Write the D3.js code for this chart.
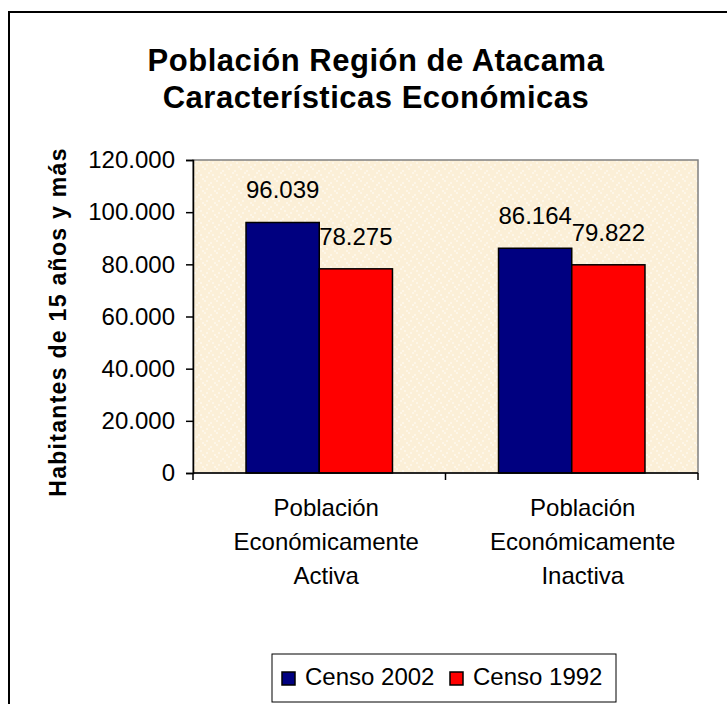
<!DOCTYPE html>
<meta charset="utf-8">
<head>
    <title>Población Región de Atacama</title>
</head>
<style>
 body { margin: 0; background: white; }
 svg { display: block; font-family: "Liberation Sans", Arial, sans-serif; }
 .tick text { font-size: 24px; fill: black; }
</style>
<body>
    <div id="chart"></div>
    <script src="https://d3js.org/d3.v7.min.js"></script>
    <script>

     // datos
     var categorias = [["Población", "Económicamente", "Activa"],
                       ["Población", "Económicamente", "Inactiva"]];
     var series = ["Censo 2002", "Censo 1992"];
     var censo2002 = [96039, 86164];
     var censo1992 = [78275, 79822];
     var colores = ["#000080", "#ff0000"];
     var ticks = [0, 20000, 40000, 60000, 80000, 100000, 120000];

     var width = 727, height = 704;
     var plotLeft = 193, plotRight = 698, plotTop = 160, plotBottom = 473;

     var fmt = function (v) {
         return d3.format(",")(v).replace(/,/g, ".");
     };

     var svg = d3.select("#chart").append("svg")
                 .attr("width", width)
                 .attr("height", height);

     // textura del fondo
     var pat = svg.append("defs").append("pattern")
                  .attr("id", "papel")
                  .attr("patternUnits", "userSpaceOnUse")
                  .attr("width", 12).attr("height", 12);
     pat.append("rect").attr("width", 12).attr("height", 12).attr("fill", "#fbefd7");
     [[0, 0], [6, 2], [2, 8], [8, 6], [4, 4], [10, 10]].forEach(function (p) {
         pat.append("rect")
            .attr("x", p[0]).attr("y", p[1])
            .attr("width", 2).attr("height", 2)
            .attr("fill", "#fdf6e8");
     });

     // marco exterior
     svg.append("rect")
        .attr("x", 9).attr("y", 12)
        .attr("width", 740).attr("height", 720)
        .attr("fill", "white")
        .attr("stroke", "black")
        .attr("stroke-width", 2);

     var titulo = ["Población Región de Atacama", "Características Económicas"];
     svg.selectAll("text.titulo")
        .data(titulo)
        .enter()
        .append("text")
        .attr("class", "titulo")
        .attr("x", 376)
        .attr("y", function (d, i) { return 71 + i * 37; })
        .attr("text-anchor", "middle")
        .attr("font-size", 31).attr("font-weight", "bold")
        .attr("letter-spacing", 0.5)
        .text(function (d) { return d; });

     var y = d3.scaleLinear().domain([0, 120000]).range([plotBottom, plotTop]);
     var x0 = d3.scaleBand().domain(d3.range(categorias.length))
                .range([plotLeft, plotRight]).paddingInner(0.42).paddingOuter(0.21);
     var x1 = d3.scaleBand().domain(d3.range(series.length))
                .range([0, x0.bandwidth()]);
     // las etiquetas de categoría de Excel quedan algo a la derecha
     var xLab = d3.scaleBand().domain(d3.range(categorias.length))
                  .range([plotLeft + 5, plotRight + 13]);

     // fondo del área de trazado
     svg.append("rect")
        .attr("x", plotLeft).attr("y", plotTop)
        .attr("width", plotRight - plotLeft).attr("height", plotBottom - plotTop)
        .attr("fill", "url(#papel)")
        .attr("stroke", "#808080")
        .attr("stroke-width", 1.5);

     var yAxis = svg.append("g")
                    .attr("transform", "translate(" + plotLeft + ",0)")
                    .call(d3.axisLeft(y).tickValues(ticks).tickFormat(fmt)
                            .tickSizeOuter(0).tickSize(7).tickPadding(11));
     yAxis.selectAll("line, path").attr("stroke", "black").attr("stroke-width", 1.5);
     yAxis.selectAll("text").attr("font-family", null).attr("font-size", null);

     var datos = categorias.map(function (c, i) {
         return [censo2002[i], censo1992[i]];
     });

     var grupos = svg.selectAll("g.grupo")
                     .data(datos)
                     .enter()
                     .append("g")
                     .attr("class", "grupo")
                     .attr("transform", function (d, i) {
                         return "translate(" + x0(i) + ",0)";
                     });

     grupos.selectAll("rect")
           .data(function (d) { return d; })
           .enter()
           .append("rect")
           .attr("x", function (d, j) { return x1(j); })
           .attr("y", function (d) { return y(d); })
           .attr("width", x1.bandwidth())
           .attr("height", function (d) { return plotBottom - y(d); })
           .attr("fill", function (d, j) { return colores[j]; })
           .attr("stroke", "black")
           .attr("stroke-width", 1.5);

     grupos.selectAll("text.valor")
           .data(function (d) { return d; })
           .enter()
           .append("text")
           .attr("class", "valor")
           .attr("x", function (d, j) { return x1(j) + x1.bandwidth() / 2; })
           .attr("y", function (d) { return y(d) - 24; })
           .attr("text-anchor", "middle")
           .attr("font-size", 24)
           .text(fmt);

     // eje x
     var bandStep = (plotRight - plotLeft) / categorias.length;
     var xAxis = svg.append("g");
     xAxis.append("line")
          .attr("x1", plotLeft).attr("x2", plotRight)
          .attr("y1", plotBottom).attr("y2", plotBottom)
          .attr("stroke", "black").attr("stroke-width", 1.5);
     xAxis.selectAll("line.tk")
          .data(d3.range(categorias.length + 1))
          .enter()
          .append("line")
          .attr("class", "tk")
          .attr("x1", function (i) { return plotLeft + i * bandStep; })
          .attr("x2", function (i) { return plotLeft + i * bandStep; })
          .attr("y1", plotBottom).attr("y2", plotBottom + 7)
          .attr("stroke", "black").attr("stroke-width", 1.5);

     categorias.forEach(function (c, i) {
         var t = svg.append("text")
                    .attr("text-anchor", "middle")
                    .attr("font-size", 24);
         c.forEach(function (linea, k) {
             t.append("tspan")
              .attr("x", xLab(i) + xLab.bandwidth() / 2)
              .attr("y", 516 + k * 34)
              .text(linea);
         });
     });

     svg.append("text")
        .attr("transform", "translate(66,322) rotate(-90)")
        .attr("text-anchor", "middle")
        .attr("font-size", 23).attr("font-weight", "bold")
        .attr("letter-spacing", 1.3)
        .text("Habitantes de 15 años y más");

     // leyenda
     var ley = svg.append("g");
     ley.append("rect")
        .attr("x", 272).attr("y", 654)
        .attr("width", 344).attr("height", 48)
        .attr("fill", "white").attr("stroke", "black").attr("stroke-width", 1);
     var lx = [282, 450];
     series.forEach(function (s, j) {
         ley.append("rect")
            .attr("x", lx[j]).attr("y", 672)
            .attr("width", 13).attr("height", 13)
            .attr("fill", colores[j]).attr("stroke", "black").attr("stroke-width", 1.5);
         ley.append("text")
            .attr("x", lx[j] + 23).attr("y", 685)
            .attr("font-size", 24)
            .text(s);
     });
    </script>
</body>
